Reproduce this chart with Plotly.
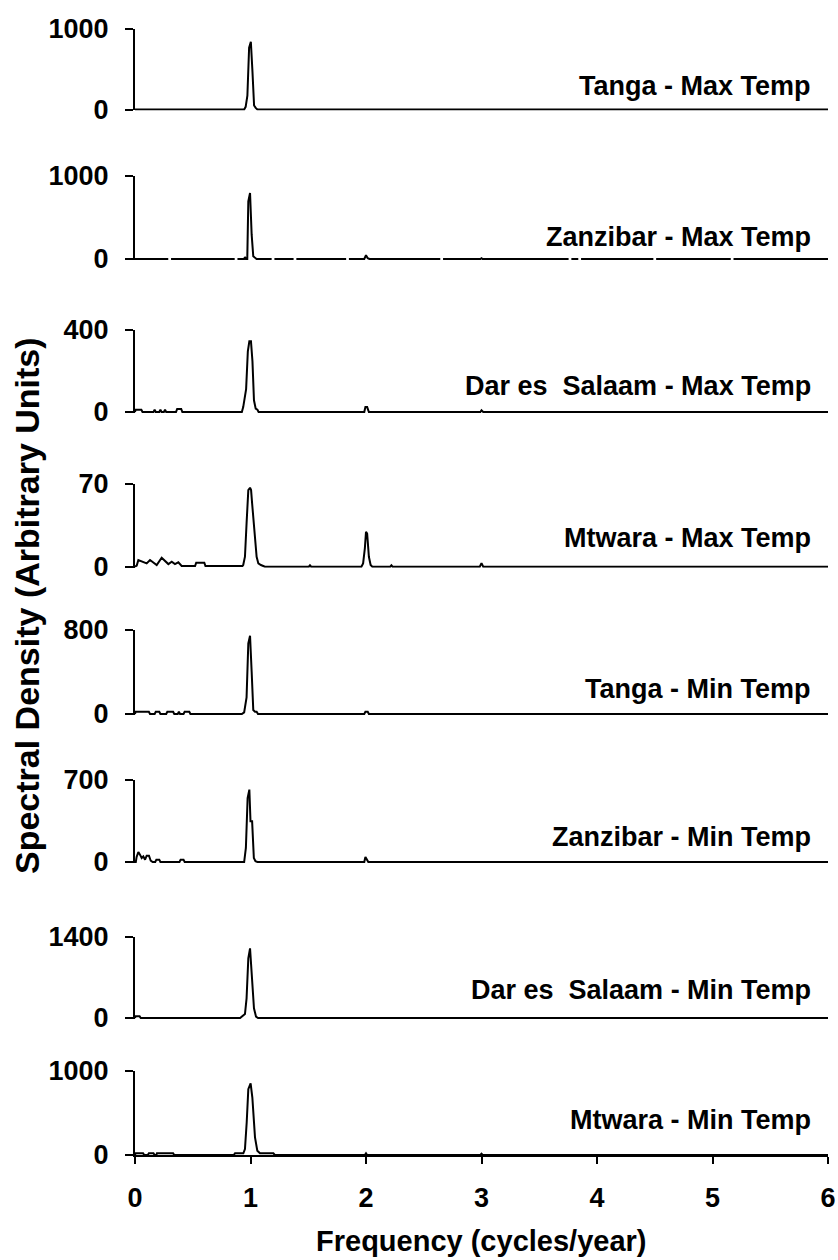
import plotly.graph_objects as go

# ---------------- data ----------------
labels = ["Tanga - Max Temp", "Zanzibar - Max Temp", "Dar es  Salaam - Max Temp",
          "Mtwara - Max Temp", "Tanga - Min Temp", "Zanzibar - Min Temp",
          "Dar es  Salaam - Min Temp", "Mtwara - Min Temp"]
y_tops = [1000, 1000, 400, 70, 800, 700, 1400, 1000]
x_ticks = [0, 1, 2, 3, 4, 5, 6]

tanga_max_f = [0, 0.945, 0.958, 0.973, 0.988, 1.003, 1.017, 1.031, 1.045, 1.06, 6]
tanga_max_v = [0, 0, 33, 170, 763, 837, 467, 50, 20, 0, 0]

zanzibar_max_f = [0, 0.288, 0.30, 0.312, 0.863, 0.875, 0.887, 0.945, 0.952, 0.96, 0.972, 0.981,
                  0.996, 1.01, 1.024, 1.039, 1.053, 1.183, 1.195, 1.207, 1.373, 1.385, 1.397,
                  1.828, 1.84, 1.852, 1.985, 2.0, 2.015, 2.03, 2.643, 2.655, 2.667, 2.99, 3.0,
                  3.01, 3.754, 3.766, 3.778, 3.838, 3.85, 3.862, 4.488, 4.5, 4.512, 5.158,
                  5.17, 5.182, 6]
zanzibar_max_v = [0, 0, None, 0, 0, None, 0, 0, 24, 0, 0, 695,
                  795, 293, 32, 12, 0, 0, None, 0, 0, None, 0,
                  0, None, 0, 0, 45, 10, 0, 0, None, 0, 0, 10,
                  0, 0, None, 0, 0, None, 0, 0, None, 0, 0,
                  None, 0, 0]

dar_max_f = [0, 0.005, 0.055, 0.065, 0.16, 0.17, 0.18, 0.21, 0.22, 0.23, 0.25, 0.26, 0.27,
             0.355, 0.365, 0.40, 0.41, 0.925, 0.937, 0.962, 0.977, 0.99, 1.004, 1.017,
             1.03, 1.045, 1.06, 1.07, 1.985, 1.995, 2.01, 2.025, 2.99, 3.0, 3.015, 6]
dar_max_v = [0, 11, 11, 0, 0, 11, 0, 0, 11, 0, 0, 11, 0,
             0, 15, 15, 0, 0, 24, 112, 296, 345, 345, 247,
             57, 16, 11, 0, 0, 24, 24, 0, 0, 8, 0, 0]

mtwara_max_f = [0, 0.015, 0.029, 0.058, 0.101, 0.13, 0.159, 0.188, 0.231, 0.26, 0.289,
                0.318, 0.346, 0.375, 0.404, 0.5, 0.52, 0.53, 0.6, 0.61, 0.93, 0.937, 0.952,
                0.966, 0.981, 0.996, 1.005, 1.014, 1.039, 1.053, 1.068, 1.09, 1.125,
                1.505, 1.515, 1.525, 1.96, 1.975, 1.99, 2.0, 2.01, 2.025, 2.04, 2.055,
                2.21, 2.22, 2.23, 2.985, 3.0, 3.015, 6]
mtwara_max_v = [0, 1, 5.6, 4.2, 2.8, 5.6, 3.4, 1.4, 7.6, 4.8, 2.2,
                4.2, 2.2, 3.7, 0.6, 0.5, 0.5, 3.4, 3.4, 0.5, 0.5, 1.4, 8.4,
                36.5, 64.6, 66.6, 64.6, 53.4, 19.7, 8.4, 2.8, 1.4, 0,
                0, 1.2, 0, 0, 2.8, 15.5, 29.5, 28, 8.4, 1.4, 0,
                0, 1.2, 0, 0, 3, 0, 0]

tanga_min_f = [0, 0.005, 0.12, 0.13, 0.17, 0.18, 0.21, 0.22, 0.27, 0.28, 0.33, 0.34, 0.37,
               0.38, 0.39, 0.42, 0.43, 0.47, 0.48, 0.925, 0.945, 0.966, 0.981, 0.996, 1.01,
               1.024, 1.039, 1.053, 1.065, 1.985, 1.995, 2.015, 2.025, 6]
tanga_min_v = [0, 22, 22, 0, 0, 22, 22, 0, 0, 22, 22, 0, 0,
               22, 0, 0, 22, 22, 0, 0, 16, 159, 673, 746, 403,
               38, 22, 22, 0, 0, 22, 22, 0, 0]

zanzibar_min_f = [0, 0.007, 0.014, 0.029, 0.043, 0.058, 0.072, 0.087, 0.101, 0.121, 0.136,
                  0.153, 0.175, 0.185, 0.21, 0.22, 0.385, 0.395, 0.42, 0.43, 0.945, 0.96,
                  0.975, 0.99, 1.0, 1.014, 1.029, 1.043, 1.06, 1.985, 1.995, 2.005, 2.02, 6]
zanzibar_min_v = [0, 0, 43, 85, 63, 34, 48, 20, 54, 54, 11,
                  0, 0, 20, 20, 0, 0, 20, 20, 0, 0, 120,
                  546, 618, 347, 347, 34, 6, 0, 0, 43, 30, 0, 0]

dar_min_f = [0, 0.005, 0.04, 0.05, 0.91, 0.925, 0.952, 0.966, 0.981, 0.996, 1.01, 1.03,
             1.048, 1.065, 6]
dar_min_v = [0, 29, 29, 0, 0, 23, 69, 339, 1027, 1200, 827, 166,
             23, 0, 0]

mtwara_min_f = [0, 0.005, 0.07, 0.08, 0.11, 0.12, 0.16, 0.17, 0.185, 0.19, 0.33, 0.34,
                0.855, 0.866, 0.938, 0.952, 0.967, 0.981, 1.001, 1.016, 1.039, 1.059,
                1.082, 1.198, 1.21, 1.99, 2.0, 2.01, 2.99, 3.0, 3.01, 6]
mtwara_min_v = [0, 20, 20, 0, 0, 20, 20, 0, 0, 20, 20, 0,
                0, 20, 20, 71, 387, 783, 854, 684, 210, 51,
                20, 20, 0, 0, 20, 0, 0, 15, 0, 0]

series_f = [tanga_max_f, zanzibar_max_f, dar_max_f, mtwara_max_f,
            tanga_min_f, zanzibar_min_f, dar_min_f, mtwara_min_f]
series_v = [tanga_max_v, zanzibar_max_v, dar_max_v, mtwara_max_v,
            tanga_min_v, zanzibar_min_v, dar_min_v, mtwara_min_v]

# ---------------- layout geometry (pixels) ----------------
W, H = 838, 1260
ML, MR, MT, MB = 135, 10, 20, 100
PH = H - MT - MB
PW = W - ML - MR
panel_top_px = [28.5, 176, 330, 483.7, 630, 780, 936.7, 1071]
panel_zero_px = [109.5, 259, 412, 566.7, 714, 862, 1018, 1155]
label_mid_px = [86, 237, 386, 538, 689, 837, 990, 1119.5]
ext = [0.012, 0.012, 0.012, 0.012, 0.012, 0.012, 0.012, 0.0]


def py(px):
    return (H - MB - px) / PH


FONT = "Liberation Sans, Arial, sans-serif"
fig = go.Figure()
layout = dict(width=W, height=H, margin=dict(l=ML, r=MR, t=MT, b=MB, autoexpand=False),
              paper_bgcolor="white", plot_bgcolor="white", showlegend=False,
              font=dict(family=FONT, size=27, color="black", weight="bold"))

for i in range(8):
    yname = "y" if i == 0 else f"y{i+1}"
    fig.add_trace(go.Scatter(x=series_f[i], y=series_v[i], mode="lines",
                             line=dict(color="black", width=2),
                             xaxis="x", yaxis=yname, connectgaps=False,
                             hoverinfo="skip"))
    top = y_tops[i]
    zero_px = panel_zero_px[i]
    top_px = panel_top_px[i]
    e = ext[i]
    bot_px = zero_px + e * (zero_px - top_px)
    key = "yaxis" if i == 0 else f"yaxis{i+1}"
    layout[key] = dict(domain=[py(bot_px), py(top_px)], range=[-e * top, top],
                       anchor="x", tickvals=[0, top], ticktext=[str(0), str(top)],
                       showline=True, linecolor="black", linewidth=2,
                       ticks="outside", ticklen=8, tickwidth=2, tickcolor="black",
                       ticklabelstandoff=11, showgrid=False, zeroline=False,
                       automargin=False,
                       tickfont=dict(family=FONT, size=27, color="black", weight="bold"),
                       fixedrange=True)

layout["xaxis"] = dict(domain=[0, 1], range=[0, 6], anchor="y8", tickvals=x_ticks,
                       showline=True, linecolor="black", linewidth=2,
                       ticks="outside", ticklen=7, tickwidth=2, tickcolor="black",
                       ticklabelstandoff=11, showgrid=False, zeroline=False,
                       automargin=False,
                       tickfont=dict(family=FONT, size=27, color="black", weight="bold"),
                       fixedrange=True)

annotations = []
for i in range(8):
    annotations.append(dict(text=labels[i], xref="paper", yref="paper",
                            x=(813 - ML) / PW, y=py(label_mid_px[i]),
                            xanchor="right", yanchor="middle", showarrow=False,
                            font=dict(family=FONT, size=27, color="black", weight="bold")))
annotations.append(dict(text="Spectral Density (Arbitrary Units)", xref="paper", yref="paper",
                        x=(27 - ML) / PW, y=py(606), textangle=-90,
                        xanchor="center", yanchor="middle", showarrow=False,
                        font=dict(family=FONT, size=34, color="black", weight="bold")))
annotations.append(dict(text="Frequency (cycles/year)", xref="paper", yref="paper",
                        x=(481 - ML) / PW, y=py(1259),
                        xanchor="center", yanchor="bottom", showarrow=False,
                        font=dict(family=FONT, size=29, color="black", weight="bold")))
layout["annotations"] = annotations

fig.update_layout(**layout)
fig.write_html("out.html")
